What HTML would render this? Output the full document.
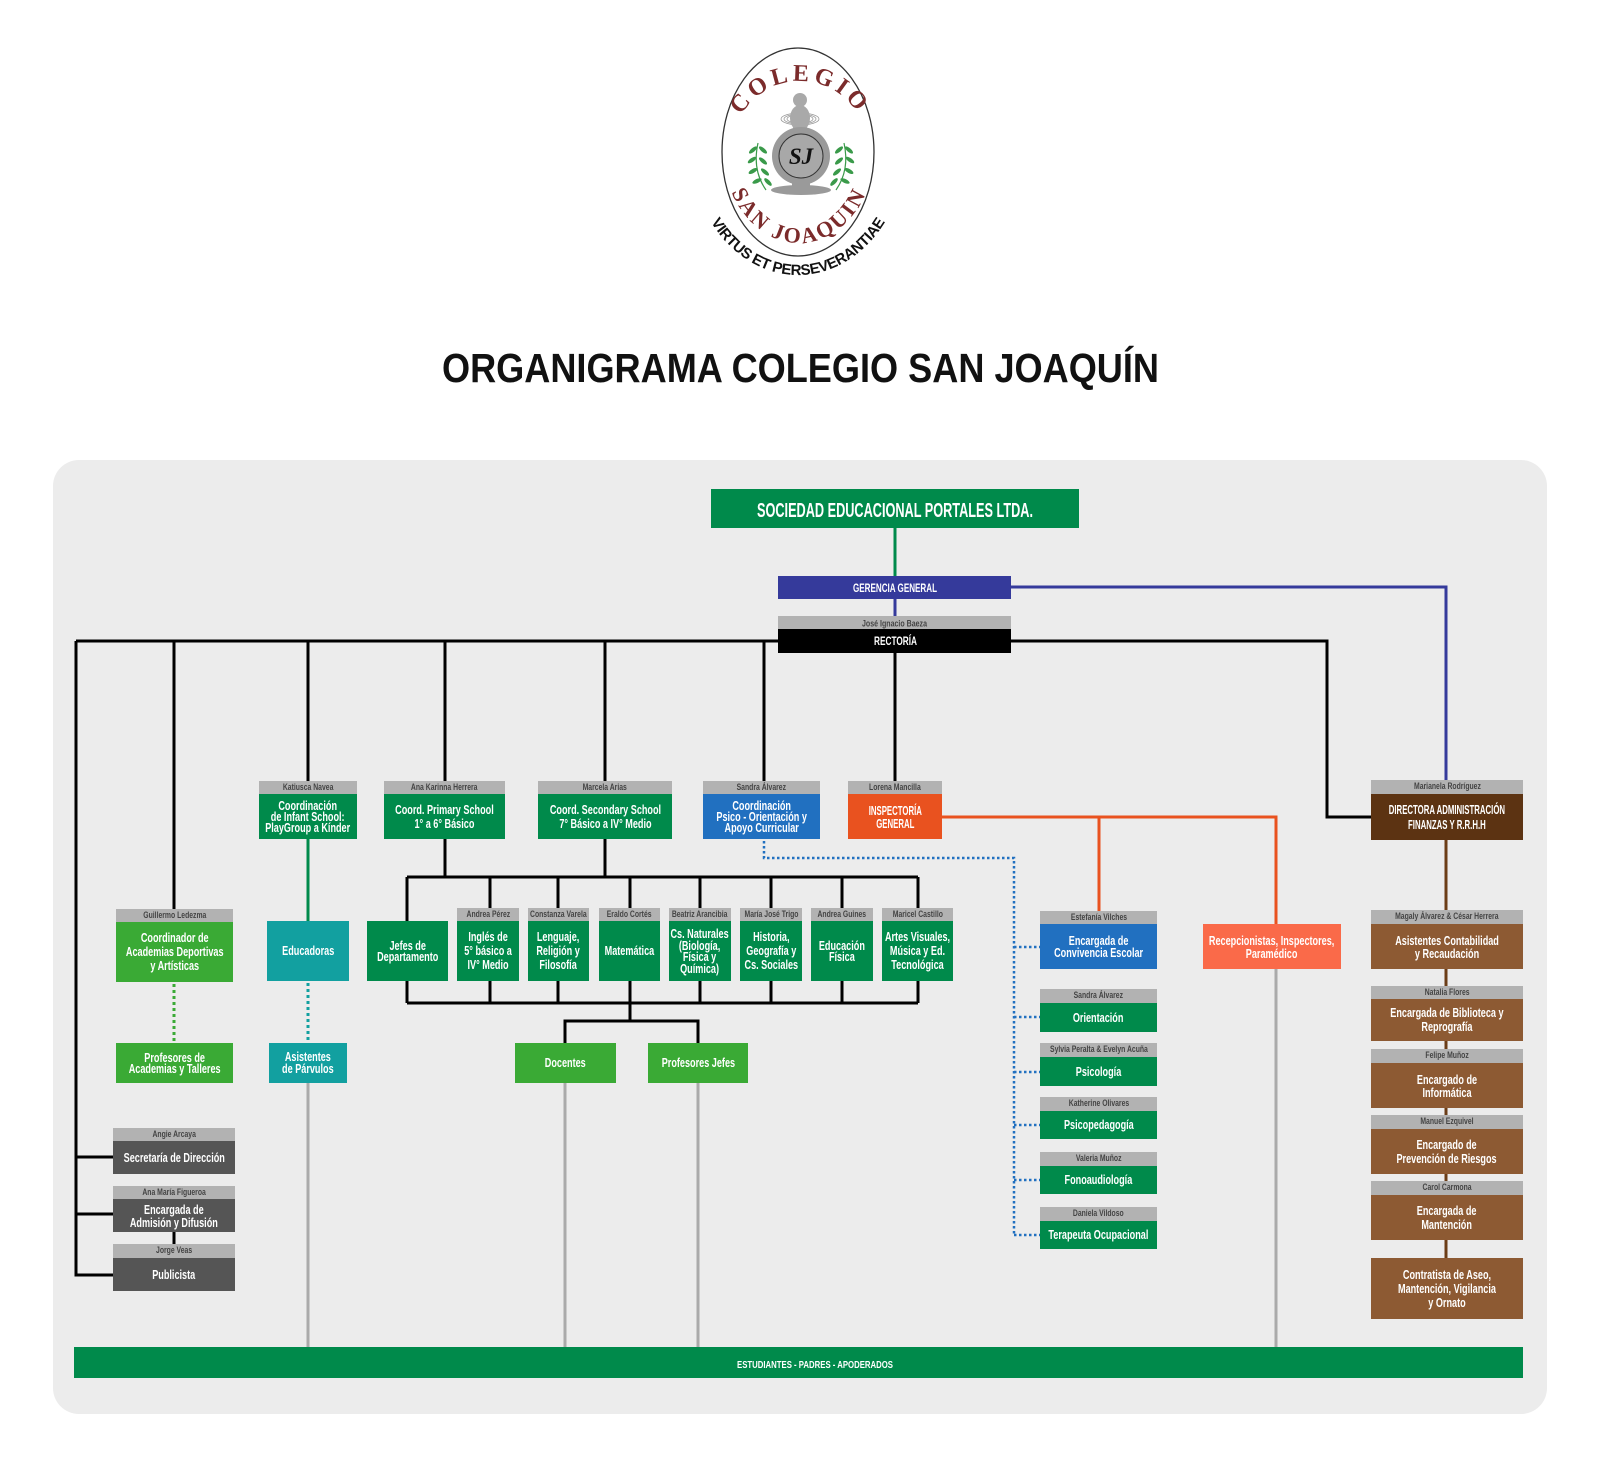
<!DOCTYPE html>
<html>
<head>
<meta charset="utf-8">
<style>
  html,body{margin:0;padding:0;background:#fff;}
  body{width:1600px;height:1467px;position:relative;overflow:hidden;font-family:"Liberation Sans",sans-serif;}
  .panel{position:absolute;left:53px;top:460px;width:1494px;height:954px;background:#ececec;border-radius:26px;}
  svg.layer{position:absolute;left:0;top:0;}
  .b{position:absolute;display:flex;align-items:center;justify-content:center;color:#fff;font-weight:bold;font-size:13px;line-height:12px;text-align:center;white-space:nowrap;}
  .b span{display:inline-block;transform:scaleX(.7);}
  .b.caps span{transform:scaleX(.6);}
  .h{position:absolute;display:flex;align-items:center;justify-content:center;background:#b2b2b2;color:#444;font-weight:bold;font-size:9.5px;line-height:10px;white-space:nowrap;}
  .h span{display:inline-block;transform:scaleX(.72);}
  .dg{background:#008a4b;} .lg{background:#3aaa35;} .tl{background:#12a0a0;} .bl{background:#2170c0;}
  .or{background:#e9521f;} .sa{background:#fa6a49;} .db{background:#5c3312;} .br{background:#8d5a33;}
  .gy{background:#555555;} .bk{background:#000;} .gg{background:#353a9b;}
</style>
</head>
<body>

<!-- Logo + title -->
<svg class="layer" width="1600" height="460" viewBox="0 0 1600 460">
  <defs>
    <path id="arcTop" d="M 730 155 A 70 74 0 0 1 870 155" fill="none"/>
    <path id="arcBot" d="M 722 145 A 77 98 0 0 0 876 145" fill="none"/>
    <path id="arcOut" d="M 690 145 A 108 130 0 0 0 906 145" fill="none"/>
  </defs>
  <ellipse cx="798" cy="152" rx="76" ry="104" fill="#fff" stroke="#333" stroke-width="1.3"/>
  <text font-family="Liberation Serif, serif" font-weight="bold" font-size="24" fill="#7b2b2b" letter-spacing="4">
    <textPath href="#arcTop" startOffset="50%" text-anchor="middle">COLEGIO</textPath>
  </text>
  <text font-family="Liberation Serif, serif" font-weight="bold" font-size="22" fill="#7b2b2b" letter-spacing="2.5">
    <textPath href="#arcBot" startOffset="50%" text-anchor="middle">SAN JOAQUIN</textPath>
  </text>
  <text font-family="Liberation Sans, sans-serif" font-weight="bold" font-size="15" fill="#111" letter-spacing="-0.3">
    <textPath href="#arcOut" startOffset="50%" text-anchor="middle">VIRTUS ET PERSEVERANTIAE</textPath>
  </text>
  <!-- figure -->
  <g fill="none" stroke="#999" stroke-width="0.8">
    <ellipse cx="800" cy="119" rx="19" ry="6"/>
    <ellipse cx="800" cy="119" rx="16" ry="5"/>
    <ellipse cx="800" cy="119" rx="13" ry="4"/>
  </g>
  <circle cx="800" cy="100" r="7" fill="#a9a9a9"/>
  <ellipse cx="800" cy="118" rx="10" ry="13" fill="#a9a9a9"/>
  <rect x="793" y="126" width="14" height="6" fill="#a9a9a9"/>
  <circle cx="801" cy="156" r="29" fill="#9a9a9a"/>
  <circle cx="801" cy="156" r="22" fill="#a8a8a8" stroke="#333" stroke-width="1"/>
  <text x="801" y="164" font-family="Liberation Serif, serif" font-style="italic" font-weight="bold" font-size="23" fill="#111" text-anchor="middle">SJ</text>
  <rect x="792" y="182" width="18" height="7" fill="#9a9a9a"/>
  <ellipse cx="801" cy="190" rx="30" ry="5" fill="#9a9a9a"/>
  <!-- laurels -->
  <g fill="#3a9a4a">
    <path d="M766 190 Q752 170 758 143" stroke="#3a9a4a" stroke-width="1.2" fill="none"/>
    <ellipse cx="753" cy="150" rx="5" ry="2" transform="rotate(-40 753 150)"/>
    <ellipse cx="763" cy="150" rx="5" ry="2" transform="rotate(40 763 150)"/>
    <ellipse cx="752" cy="160" rx="5" ry="2" transform="rotate(-35 752 160)"/>
    <ellipse cx="763" cy="161" rx="5" ry="2" transform="rotate(40 763 161)"/>
    <ellipse cx="753" cy="171" rx="5" ry="2" transform="rotate(-30 753 171)"/>
    <ellipse cx="765" cy="172" rx="5" ry="2" transform="rotate(40 765 172)"/>
    <ellipse cx="757" cy="181" rx="5" ry="2" transform="rotate(-25 757 181)"/>
    <ellipse cx="768" cy="182" rx="5" ry="2" transform="rotate(45 768 182)"/>
    <path d="M836 190 Q850 170 844 143" stroke="#3a9a4a" stroke-width="1.2" fill="none"/>
    <ellipse cx="849" cy="150" rx="5" ry="2" transform="rotate(40 849 150)"/>
    <ellipse cx="839" cy="150" rx="5" ry="2" transform="rotate(-40 839 150)"/>
    <ellipse cx="850" cy="160" rx="5" ry="2" transform="rotate(35 850 160)"/>
    <ellipse cx="839" cy="161" rx="5" ry="2" transform="rotate(-40 839 161)"/>
    <ellipse cx="849" cy="171" rx="5" ry="2" transform="rotate(30 849 171)"/>
    <ellipse cx="837" cy="172" rx="5" ry="2" transform="rotate(-40 837 172)"/>
    <ellipse cx="845" cy="181" rx="5" ry="2" transform="rotate(25 845 181)"/>
    <ellipse cx="834" cy="182" rx="5" ry="2" transform="rotate(-45 834 182)"/>
  </g>
  <text x="442" y="382" font-family="Liberation Sans, sans-serif" font-weight="bold" font-size="41" fill="#111" textLength="717" lengthAdjust="spacingAndGlyphs">ORGANIGRAMA COLEGIO SAN JOAQUÍN</text>
</svg>

<div class="panel"></div>

<!-- Connectors -->
<svg class="layer" width="1600" height="1467" viewBox="0 0 1600 1467">
  <g fill="none" stroke-width="3">
    <path stroke="#000" d="M76 641 H1327 V817 H1371 M76 641 V1275 H113 M76 1157 H113 M76 1214 H113
      M174 641 V909 M308 641 V781 M445 641 V781 M605 641 V781 M764 641 V781 M895 653 V781
      M445 839 V877 M605 839 V877 M407 877 H918
      M407 877 V1003 M490 877 V1003 M558 877 V1003 M630 877 V1021 M700 877 V1003 M771 877 V1003 M842 877 V1003 M918 877 V1003
      M407 1003 H918 M565 1043 V1021 H698 V1043 M174 1232 V1244"/>
    <path stroke="#008a4b" d="M895 528 V576 M308 839 V921"/>
    <path stroke="#353a9b" d="M895 599 V616 M1011 587 H1446 V780"/>
    <path stroke="#e9521f" d="M942 817 H1276 V924 M1099 817 V911"/>
    <path stroke="#6b3d17" d="M1446 840 V1258"/>
    <path stroke="#aaaaaa" d="M308 1083 V1347 M565 1083 V1347 M698 1083 V1347 M1276 969 V1347"/>
    <path stroke="#3aaa35" stroke-dasharray="3 3" d="M174 984 V1043"/>
    <path stroke="#12a0a0" stroke-dasharray="3 3" d="M308 983 V1043"/>
    <path stroke="#2170c0" stroke-width="2.5" stroke-dasharray="2.5 2.5" d="M764 841 V858 H1014 V1236 M1014 947 H1040 M1014 1017 H1040 M1014 1072 H1040 M1014 1125 H1040 M1014 1180 H1040 M1014 1235 H1040"/>
  </g>
</svg>

<!-- Top boxes -->
<div class="b dg" style="left:711px;top:489px;width:368px;height:39px;"></div>
<div class="b gg" style="left:778px;top:576px;width:233px;height:23px;"></div>
<div class="h" style="left:778px;top:616px;width:233px;height:13px;"></div>
<div class="b bk" style="left:778px;top:629px;width:233px;height:24px;"></div>

<!-- Row 2 -->
<div class="h" style="left:259px;top:781px;width:98px;height:13px;"><span>Katiusca Navea</span></div>
<div class="b dg" style="left:259px;top:794px;width:98px;height:45px;line-height:11px;"><span>Coordinación<br>de Infant School:<br>PlayGroup a Kínder</span></div>
<div class="h" style="left:384px;top:781px;width:121px;height:13px;"><span>Ana Karinna Herrera</span></div>
<div class="b dg" style="left:384px;top:794px;width:121px;height:45px;line-height:14px;"><span>Coord. Primary School<br>1° a 6° Básico</span></div>
<div class="h" style="left:538px;top:781px;width:134px;height:13px;"><span>Marcela Arias</span></div>
<div class="b dg" style="left:538px;top:794px;width:134px;height:45px;line-height:14px;"><span>Coord. Secondary School<br>7° Básico a IV° Medio</span></div>
<div class="h" style="left:703px;top:781px;width:117px;height:13px;"><span>Sandra Álvarez</span></div>
<div class="b bl" style="left:703px;top:794px;width:117px;height:45px;line-height:11px;"><span>Coordinación<br>Psico - Orientación y<br>Apoyo Curricular</span></div>
<div class="h" style="left:848px;top:781px;width:94px;height:13px;"><span>Lorena Mancilla</span></div>
<div class="b or caps" style="left:848px;top:794px;width:94px;height:45px;line-height:13px;"><span>INSPECTORÍA<br>GENERAL</span></div>
<div class="h" style="left:1371px;top:780px;width:152px;height:14px;"><span>Marianela Rodríguez</span></div>
<div class="b db caps" style="left:1371px;top:794px;width:152px;height:46px;line-height:15px;"><span>DIRECTORA ADMINISTRACIÓN<br>FINANZAS Y R.R.H.H</span></div>

<!-- Row 3 -->
<div class="h" style="left:116px;top:909px;width:117px;height:13px;"><span>Guillermo Ledezma</span></div>
<div class="b lg" style="left:116px;top:922px;width:117px;height:60px;line-height:14px;"><span>Coordinador de<br>Academias Deportivas<br>y Artísticas</span></div>
<div class="b tl" style="left:267px;top:921px;width:82px;height:60px;"><span>Educadoras</span></div>
<div class="b dg" style="left:367px;top:921px;width:81px;height:60px;line-height:11px;"><span>Jefes de<br>Departamento</span></div>

<div class="h" style="left:457px;top:908px;width:62px;height:13px;"><span>Andrea Pérez</span></div>
<div class="b dg" style="left:457px;top:921px;width:62px;height:60px;line-height:14px;"><span>Inglés de<br>5° básico a<br>IV° Medio</span></div>
<div class="h" style="left:528px;top:908px;width:61px;height:13px;"><span>Constanza Varela</span></div>
<div class="b dg" style="left:528px;top:921px;width:61px;height:60px;line-height:14px;"><span>Lenguaje,<br>Religión y<br>Filosofía</span></div>
<div class="h" style="left:599px;top:908px;width:61px;height:13px;"><span>Eraldo Cortés</span></div>
<div class="b dg" style="left:599px;top:921px;width:61px;height:60px;"><span>Matemática</span></div>
<div class="h" style="left:669px;top:908px;width:62px;height:13px;"><span>Beatriz Arancibia</span></div>
<div class="b dg" style="left:669px;top:921px;width:62px;height:60px;line-height:11.5px;"><span>Cs. Naturales<br>(Biología,<br>Física y<br>Química)</span></div>
<div class="h" style="left:740px;top:908px;width:62px;height:13px;"><span>María José Trigo</span></div>
<div class="b dg" style="left:740px;top:921px;width:62px;height:60px;line-height:14px;"><span>Historia,<br>Geografía y<br>Cs. Sociales</span></div>
<div class="h" style="left:811px;top:908px;width:62px;height:13px;"><span>Andrea Guines</span></div>
<div class="b dg" style="left:811px;top:921px;width:62px;height:60px;line-height:11px;"><span>Educación<br>Física</span></div>
<div class="h" style="left:882px;top:908px;width:71px;height:13px;"><span>Maricel Castillo</span></div>
<div class="b dg" style="left:882px;top:921px;width:71px;height:60px;line-height:14px;"><span>Artes Visuales,<br>Música y Ed.<br>Tecnológica</span></div>

<!-- Row 4 -->
<div class="b lg" style="left:116px;top:1043px;width:117px;height:40px;line-height:11px;"><span>Profesores de<br>Academias y Talleres</span></div>
<div class="b tl" style="left:269px;top:1043px;width:78px;height:40px;line-height:12px;"><span>Asistentes<br>de Párvulos</span></div>
<div class="b lg" style="left:515px;top:1043px;width:101px;height:40px;"><span>Docentes</span></div>
<div class="b lg" style="left:648px;top:1043px;width:100px;height:40px;"><span>Profesores Jefes</span></div>

<!-- Left staff -->
<div class="h" style="left:113px;top:1128px;width:122px;height:13px;"><span>Angie Arcaya</span></div>
<div class="b gy" style="left:113px;top:1141px;width:122px;height:33px;"><span>Secretaría de Dirección</span></div>
<div class="h" style="left:113px;top:1186px;width:122px;height:13px;"><span>Ana María Figueroa</span></div>
<div class="b gy" style="left:113px;top:1199px;width:122px;height:33px;line-height:13px;"><span>Encargada de<br>Admisión y Difusión</span></div>
<div class="h" style="left:113px;top:1244px;width:122px;height:14px;"><span>Jorge Veas</span></div>
<div class="b gy" style="left:113px;top:1258px;width:122px;height:33px;"><span>Publicista</span></div>

<!-- Psico / Inspectoría column -->
<div class="h" style="left:1040px;top:911px;width:117px;height:13px;"><span>Estefanía Vilches</span></div>
<div class="b bl" style="left:1040px;top:924px;width:117px;height:45px;line-height:12px;"><span>Encargada de<br>Convivencia Escolar</span></div>
<div class="h" style="left:1040px;top:989px;width:117px;height:14px;"><span>Sandra Álvarez</span></div>
<div class="b dg" style="left:1040px;top:1003px;width:117px;height:29px;"><span>Orientación</span></div>
<div class="h" style="left:1040px;top:1043px;width:117px;height:14px;"><span>Sylvia Peralta &amp; Evelyn Acuña</span></div>
<div class="b dg" style="left:1040px;top:1057px;width:117px;height:29px;"><span>Psicología</span></div>
<div class="h" style="left:1040px;top:1097px;width:117px;height:14px;"><span>Katherine Olivares</span></div>
<div class="b dg" style="left:1040px;top:1111px;width:117px;height:28px;"><span>Psicopedagogía</span></div>
<div class="h" style="left:1040px;top:1152px;width:117px;height:14px;"><span>Valeria Muñoz</span></div>
<div class="b dg" style="left:1040px;top:1166px;width:117px;height:28px;"><span>Fonoaudiología</span></div>
<div class="h" style="left:1040px;top:1207px;width:117px;height:14px;"><span>Daniela Vildoso</span></div>
<div class="b dg" style="left:1040px;top:1221px;width:117px;height:28px;"><span>Terapeuta Ocupacional</span></div>
<div class="b sa" style="left:1203px;top:924px;width:138px;height:45px;line-height:13px;"><span>Recepcionistas, Inspectores,<br>Paramédico</span></div>

<!-- Brown column -->
<div class="h" style="left:1371px;top:910px;width:152px;height:14px;"><span>Magaly Álvarez &amp; César Herrera</span></div>
<div class="b br" style="left:1371px;top:924px;width:152px;height:45px;line-height:13px;"><span>Asistentes Contabilidad<br>y Recaudación</span></div>
<div class="h" style="left:1371px;top:986px;width:152px;height:13px;"><span>Natalia Flores</span></div>
<div class="b br" style="left:1371px;top:999px;width:152px;height:42px;line-height:14px;"><span>Encargada de Biblioteca y<br>Reprografía</span></div>
<div class="h" style="left:1371px;top:1049px;width:152px;height:14px;"><span>Felipe Muñoz</span></div>
<div class="b br" style="left:1371px;top:1063px;width:152px;height:45px;line-height:13px;"><span>Encargado de<br>Informática</span></div>
<div class="h" style="left:1371px;top:1115px;width:152px;height:14px;"><span>Manuel Ezquivel</span></div>
<div class="b br" style="left:1371px;top:1129px;width:152px;height:45px;line-height:14px;"><span>Encargado de<br>Prevención de Riesgos</span></div>
<div class="h" style="left:1371px;top:1181px;width:152px;height:14px;"><span>Carol Carmona</span></div>
<div class="b br" style="left:1371px;top:1195px;width:152px;height:45px;line-height:14px;"><span>Encargada de<br>Mantención</span></div>
<div class="b br" style="left:1371px;top:1258px;width:152px;height:61px;line-height:14px;"><span>Contratista de Aseo,<br>Mantención, Vigilancia<br>y Ornato</span></div>

<!-- Bottom bar -->
<div class="b dg" style="left:74px;top:1347px;width:1449px;height:31px;"></div>

<!-- Overlay texts with exact widths -->
<svg class="layer" width="1600" height="1467" viewBox="0 0 1600 1467" style="pointer-events:none;">
  <g font-family="Liberation Sans, sans-serif" font-weight="bold" fill="#fff">
    <text x="757" y="517" font-size="20" textLength="276" lengthAdjust="spacingAndGlyphs">SOCIEDAD EDUCACIONAL PORTALES LTDA.</text>
    <text x="853" y="592" font-size="12" textLength="84" lengthAdjust="spacingAndGlyphs">GERENCIA GENERAL</text>
    <text x="874" y="645" font-size="12" textLength="43" lengthAdjust="spacingAndGlyphs">RECTORÍA</text>
    <text x="737" y="1368" font-size="10" textLength="156" lengthAdjust="spacingAndGlyphs">ESTUDIANTES - PADRES - APODERADOS</text>
  </g>
  <text x="862" y="626.5" font-family="Liberation Sans, sans-serif" font-weight="bold" font-size="9.5" fill="#444" textLength="65" lengthAdjust="spacingAndGlyphs">José Ignacio Baeza</text>
</svg>

</body>
</html>
